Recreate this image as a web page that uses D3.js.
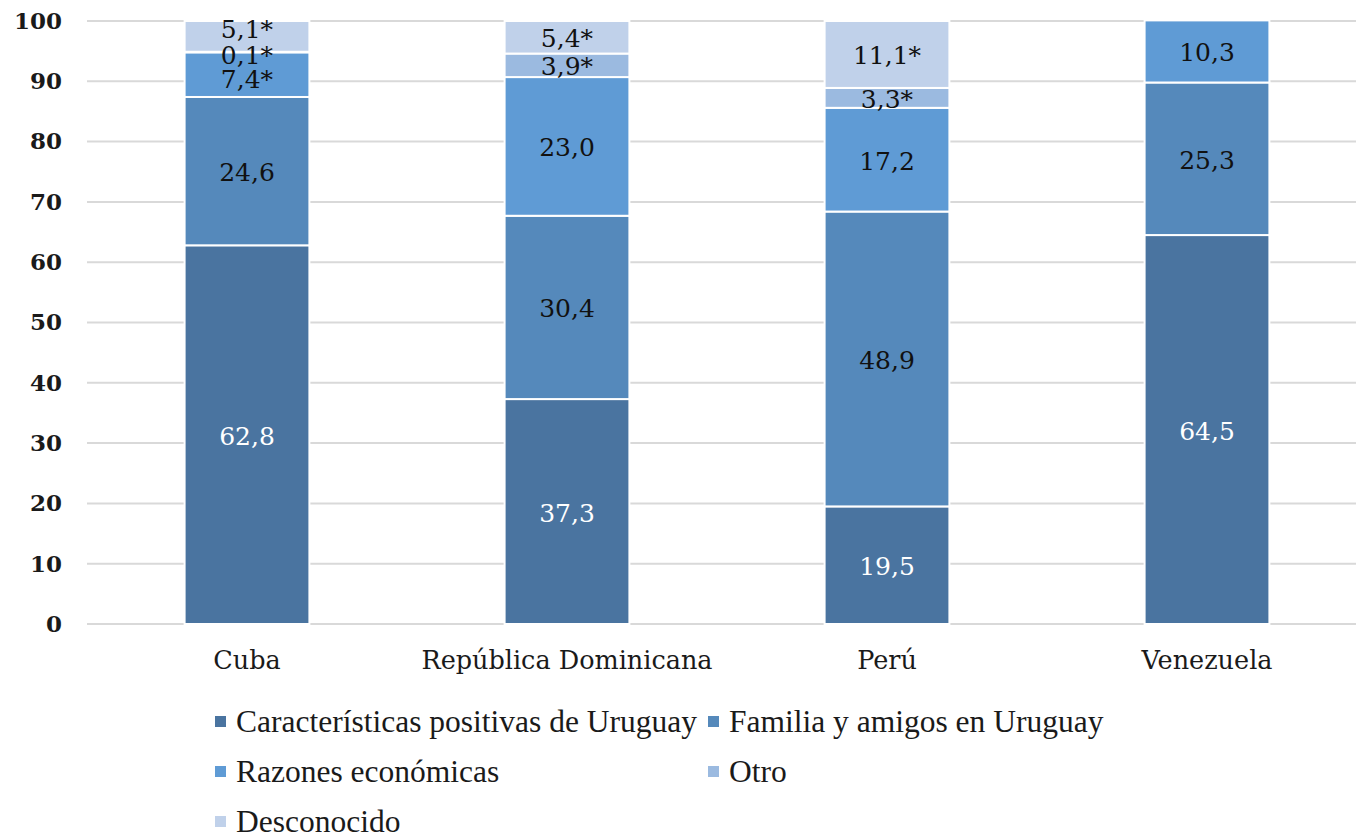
<!DOCTYPE html>
<html>
<head>
<meta charset="utf-8">
<script src="https://cdn.jsdelivr.net/npm/d3@7"></script>
<style>
  body { margin: 0; background: #fff; }
  svg { display: block; }
</style>
</head>
<body>
<div id="chart"></div>
<script>
// Motivos de migración a Uruguay por país de origen (%)
var categories = ['Cuba', 'República Dominicana', 'Perú', 'Venezuela']
var caracteristicas = [62.8, 37.3, 19.5, 64.5]
var familia = [24.6, 30.4, 48.9, 25.3]
var razones = [7.4, 23.0, 17.2, 10.3]
var otro = [0.1, 3.9, 3.3, 0]
var desconocido = [5.1, 5.4, 11.1, 0]
// values marked with * in the source (low precision)
var razonesStar = [true, false, false, false]
var otroStar = [true, true, true, false]
var desconocidoStar = [true, true, true, false]
var yTicks = [0, 10, 20, 30, 40, 50, 60, 70, 80, 90, 100]

var series = [
  { key: 'car', name: 'Características positivas de Uruguay', values: caracteristicas, star: null, color: '#4a74a0', text: '#ffffff' },
  { key: 'fam', name: 'Familia y amigos en Uruguay', values: familia, star: null, color: '#5589bb', text: '#111111' },
  { key: 'raz', name: 'Razones económicas', values: razones, star: razonesStar, color: '#5f9bd5', text: '#111111' },
  { key: 'otr', name: 'Otro', values: otro, star: otroStar, color: '#9bbae0', text: '#111111' },
  { key: 'des', name: 'Desconocido', values: desconocido, star: desconocidoStar, color: '#c0d1ea', text: '#111111' }
]

// Excel pushed some crowded labels around; small vertical nudges in px
var nudge = { 'Cuba|des': -7, 'Cuba|otr': 3, 'Cuba|raz': 4 }

var width = 1356
var height = 836

var svg = d3.select('#chart').append('svg')
  .attr('width', width)
  .attr('height', height)

var x = d3.scaleBand()
  .domain(categories)
  .range([87, 1367])
  .paddingInner(0.61)
  .paddingOuter(0.305)

var y = d3.scaleLinear()
  .domain([0, 100])
  .range([624, 21])

// gridlines
svg.append('g')
  .selectAll('line')
  .data(yTicks)
  .join('line')
  .attr('x1', 87)
  .attr('x2', width)
  .attr('y1', function (d) { return y(d) })
  .attr('y2', function (d) { return y(d) })
  .attr('stroke', '#d9d9d9')
  .attr('stroke-width', 2)

// y axis labels
var yAxis = svg.append('g')
  .attr('transform', 'translate(62,0)')
  .call(d3.axisLeft(y).tickValues(yTicks).tickSize(0).tickPadding(0).tickFormat(d3.format('d')))
yAxis.select('.domain').remove()
yAxis.selectAll('text')
  .attr('font-family', 'DejaVu Serif')
  .attr('font-size', 23)
  .attr('font-weight', 'bold')
  .attr('fill', '#1a1a1a')

// stack
var rows = categories.map(function (c, i) {
  var r = { cat: c, idx: i }
  series.forEach(function (s) { r[s.key] = s.values[i] })
  return r
})
var stacked = d3.stack().keys(series.map(function (s) { return s.key }))(rows)

var layers = svg.append('g')
  .selectAll('g')
  .data(stacked)
  .join('g')
  .attr('fill', function (d, i) { return series[i].color })

layers.selectAll('rect')
  .data(function (d) { return d.filter(function (p) { return p[1] - p[0] > 0 }) })
  .join('rect')
  .attr('x', function (d) { return x(d.data.cat) })
  .attr('width', x.bandwidth())
  .attr('y', function (d) { return y(d[1]) })
  .attr('height', function (d) { return y(d[0]) - y(d[1]) })
  .attr('stroke', '#ffffff')
  .attr('stroke-width', 2)

// value labels
var fmt = function (v) { return d3.format('.1f')(v).replace('.', ',') }
stacked.forEach(function (layer, si) {
  var s = series[si]
  svg.append('g')
    .selectAll('text')
    .data(layer.filter(function (p) { return p[1] - p[0] > 0 }))
    .join('text')
    .attr('x', function (d) { return x(d.data.cat) + x.bandwidth() / 2 })
    .attr('y', function (d) {
      var n = nudge[d.data.cat + '|' + s.key] || 1
      return y((d[0] + d[1]) / 2) + n
    })
    .attr('dy', '0.36em')
    .attr('text-anchor', 'middle')
    .attr('font-family', 'DejaVu Serif')
    .attr('font-size', 25)
    .attr('fill', s.text)
    .text(function (d) {
      var i = d.data.idx
      return fmt(s.values[i]) + (s.star && s.star[i] ? '*' : '')
    })
})

// category labels
svg.append('g')
  .selectAll('text')
  .data(categories)
  .join('text')
  .attr('x', function (d) { return x(d) + x.bandwidth() / 2 })
  .attr('y', 669)
  .attr('text-anchor', 'middle')
  .attr('font-family', 'DejaVu Serif')
  .attr('font-size', 25.5)
  .attr('fill', '#1a1a1a')
  .text(function (d) { return d })

// legend: two columns, three rows
var legendX = [215, 708]
var legendY = [722, 772, 822]
var legend = svg.append('g')
  .selectAll('g')
  .data(series)
  .join('g')
  .attr('transform', function (d, i) {
    return 'translate(' + legendX[i % 2] + ',' + legendY[Math.floor(i / 2)] + ')'
  })
legend.append('rect')
  .attr('x', 0)
  .attr('y', -6)
  .attr('width', 11)
  .attr('height', 11)
  .attr('fill', function (d) { return d.color })
legend.append('text')
  .attr('x', 21)
  .attr('y', 0)
  .attr('dy', '0.33em')
  .attr('font-family', 'Liberation Serif')
  .attr('font-size', 31.5)
  .attr('fill', '#1a1a1a')
  .text(function (d) { return d.name })
</script>
</body>
</html>
